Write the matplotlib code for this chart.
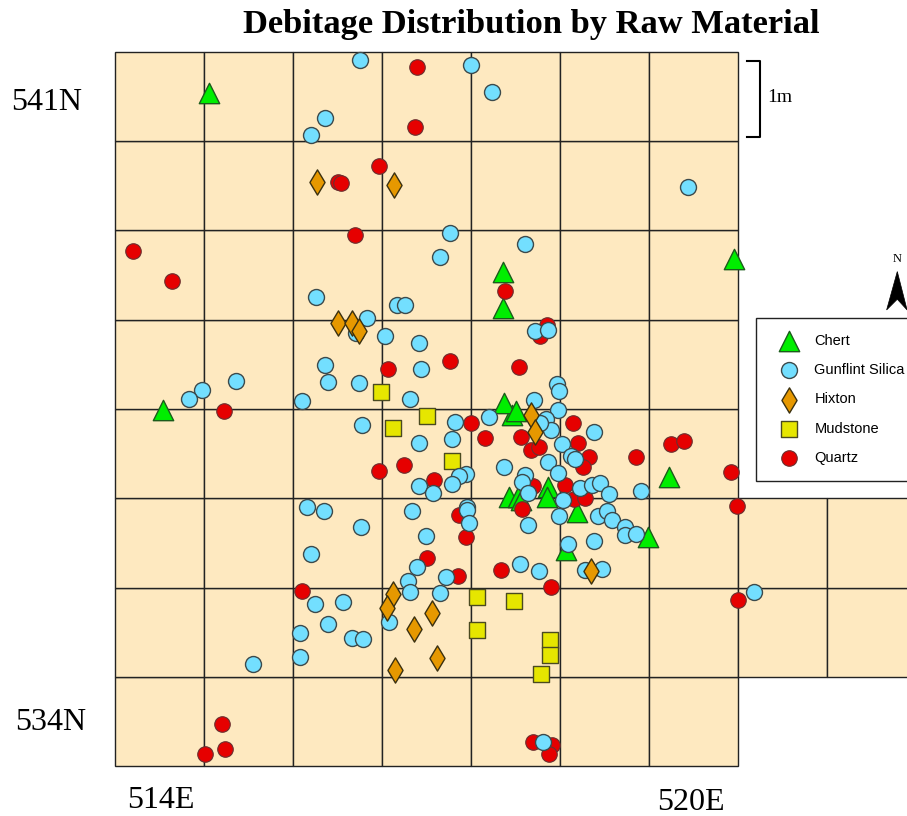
import matplotlib
matplotlib.use('Agg')
import matplotlib.pyplot as plt
from matplotlib.patches import Rectangle, Polygon

# site grid, 1m units
chert_e = [514.06, 517.36, 517.36, 519.96, 513.54, 517.46, 517.37, 517.51, 519.22, 517.43, 517.53, 517.56, 517.87, 517.85, 518.19, 518.99, 518.07]
chert_n = [540.54, 538.54, 538.13, 538.68, 536.99, 536.93, 537.07, 536.98, 536.24, 536.02, 536.02, 535.98, 536.13, 536.02, 535.85, 535.57, 535.42]

gunflint_e = [515.75, 517.00, 517.24, 515.36, 515.20, 519.44, 516.76, 516.65, 517.61, 515.26, 516.17, 516.26, 515.83, 515.71, 516.03, 516.42,
	517.72, 517.87, 515.36, 516.44, 515.39, 515.74, 514.36, 513.98, 513.83, 515.10, 516.31, 515.78, 516.82, 516.42, 516.79,
	517.97, 517.99, 517.71, 517.98, 517.20, 517.84, 517.90, 517.78, 518.38, 518.02, 518.12, 518.17, 517.87, 517.37, 517.98,
	516.94, 516.87, 516.79, 516.42, 516.57, 517.61, 517.57, 517.64, 518.22, 518.36, 518.45, 518.55, 518.91, 518.03, 516.34,
	516.96, 516.96, 516.98, 517.99, 517.64, 518.43, 518.53, 518.58, 518.73, 518.73, 518.85, 516.49, 518.38, 518.09, 516.39,
	516.72, 516.29, 516.31, 516.65, 517.55, 517.76, 518.28, 518.47, 515.16, 515.35, 515.76, 515.20, 515.25, 515.56, 515.39,
	515.08, 515.66, 515.79, 515.08, 516.08, 514.55, 520.18, 517.81]
gunflint_n = [540.91, 540.85, 540.55, 540.26, 540.07, 539.49, 538.97, 538.70, 538.85, 538.26, 538.17, 538.17, 538.02, 537.85, 537.82, 537.74,
	537.87, 537.89, 537.49, 537.45, 537.30, 537.29, 537.31, 537.21, 537.11, 537.09, 537.11, 536.82, 536.86, 536.62, 536.67,
	537.28, 537.20, 537.10, 536.99, 536.91, 536.89, 536.77, 536.84, 536.74, 536.61, 536.47, 536.44, 536.41, 536.35, 536.28,
	536.27, 536.25, 536.16, 536.14, 536.06, 536.26, 536.18, 536.06, 536.12, 536.15, 536.17, 536.05, 536.08, 535.98, 535.86,
	535.90, 535.87, 535.72, 535.80, 535.70, 535.80, 535.86, 535.76, 535.68, 535.59, 535.60, 535.58, 535.52, 535.49, 535.23,
	535.12, 535.08, 534.95, 534.94, 535.27, 535.19, 535.20, 535.21, 535.90, 535.86, 535.68, 535.38, 534.82, 534.84, 534.59,
	534.49, 534.44, 534.43, 534.22, 534.62, 534.15, 534.95, 533.27]

hixton_e = [515.27, 516.13, 515.51, 515.66, 515.74, 517.67, 517.72, 518.35, 516.12, 516.06, 516.56, 516.36, 516.62, 516.15]
hixton_n = [539.54, 539.51, 537.96, 537.96, 537.87, 536.93, 536.74, 535.19, 534.93, 534.77, 534.72, 534.54, 534.21, 534.08]

mudstone_e = [515.99, 516.12, 516.51, 516.79, 517.07, 517.48, 517.07, 517.89, 517.89, 517.79]
mudstone_n = [537.19, 536.79, 536.92, 536.42, 534.90, 534.85, 534.53, 534.41, 534.25, 534.03]

quartz_e = [516.39, 516.37, 515.97, 515.51, 515.54, 515.70, 513.20, 513.64, 517.38, 517.85, 517.78, 516.76, 517.54, 516.07, 514.22,
	517.00, 517.16, 517.56, 517.67, 517.76, 518.15, 518.20, 518.33, 518.26, 518.85, 519.25, 519.39, 515.97, 516.25, 516.58,
	517.70, 518.06, 518.16, 518.28, 517.57, 516.87, 516.94, 516.51, 516.85, 517.34, 517.90, 519.92, 519.99, 520.00, 515.10,
	514.20, 514.24, 514.01, 517.70, 517.91, 517.88]
quartz_n = [540.83, 540.16, 539.72, 539.54, 539.53, 538.95, 538.77, 538.43, 538.32, 537.94, 537.82, 537.54, 537.47, 537.45, 536.98,
	536.84, 536.68, 536.69, 536.54, 536.58, 536.84, 536.62, 536.46, 536.35, 536.46, 536.61, 536.64, 536.31, 536.37, 536.21,
	536.14, 536.15, 535.99, 536.00, 535.88, 535.81, 535.57, 535.33, 535.13, 535.20, 535.01, 536.30, 535.91, 534.86, 534.96,
	533.47, 533.19, 533.14, 533.27, 533.24, 533.14]

grid_e = [513, 514, 515, 516, 517, 518, 519]
grid_n = [533, 534, 535, 536, 537, 538, 539, 540]
extra_e = [520, 521]
extra_n = [534, 535]

serif = 'Liberation Serif'
fill = '#FEE9C0'

fig = plt.figure(figsize=(9.07, 8.16), dpi=100)
ax = fig.add_axes([0, 0, 1, 1])
ax.set_xlim(511.708, 521.899)
ax.set_ylim(532.443, 541.581)
ax.axis('off')

for e in grid_e:
	for n in grid_n:
		ax.add_patch(Rectangle((e, n), 1, 1, fc=fill, ec='#222222', lw=1, zorder=1))
for e in extra_e:
	for n in extra_n:
		ax.add_patch(Rectangle((e, n), 1, 1, fc=fill, ec='#222222', lw=1, zorder=1))

edge = '#3c4a4c'
ax.scatter(mudstone_e, mudstone_n, marker='s', s=125, c='#E6E600', edgecolors='#4a4a20', linewidths=1, zorder=3, label='Mudstone')
ax.scatter(chert_e, chert_n, marker='^', s=215, c='#00EE00', edgecolors='#1c5c1c', linewidths=1, zorder=3, label='Chert')
ax.scatter(quartz_e, quartz_n, marker='o', s=125, c='#E60000', edgecolors='#6a3030', linewidths=0.8, zorder=4, label='Quartz')
ax.scatter(gunflint_e, gunflint_n, marker='o', s=132, c='#73DFFF', edgecolors=edge, linewidths=1, zorder=5, label='Gunflint Silica')
ax.scatter(hixton_e, hixton_n, marker='d', s=165, c='#E69800', edgecolors='#3a3010', linewidths=1, zorder=6, label='Hixton')

# scale bar
ax.plot([520.10, 520.25, 520.25, 520.10], [540.90, 540.90, 540.05, 540.05], color='black', lw=1.5, zorder=2)
fig.text(780 / 907, 1 - 98 / 816, '1m', family=serif, fontsize=14, ha='center', va='center')

# north arrow
ax.add_patch(Polygon([(521.79, 538.54), (521.90, 538.11), (521.79, 538.23), (521.67, 538.11)], fc='black', ec='black', lw=0.5, zorder=2))
fig.text(897 / 907, 1 - 259 / 816, 'N', family=serif, fontsize=9, ha='center', va='center')

fig.text(531 / 907, 1 - 25 / 816, 'Debitage Distribution by Raw Material', family=serif, weight='bold', fontsize=24.8, ha='center', va='center')
fig.text(161 / 907, 1 - 801 / 816, '514E', family=serif, fontsize=23, ha='center', va='center')
fig.text(691 / 907, 1 - 802 / 816, '520E', family=serif, fontsize=23, ha='center', va='center')
fig.text(47 / 907, 1 - 103 / 816, '541N', family=serif, fontsize=23, ha='center', va='center')
fig.text(51 / 907, 1 - 722 / 816, '534N', family=serif, fontsize=23, ha='center', va='center')

handles, labels = ax.get_legend_handles_labels()
order = [labels.index(x) for x in ['Chert', 'Gunflint Silica', 'Hixton', 'Mudstone', 'Quartz']]
leg = ax.legend([handles[i] for i in order], [labels[i] for i in order], loc='upper left',
	bbox_to_anchor=(756 / 907, 1 - 318 / 816), bbox_transform=fig.transFigure, borderaxespad=0,
	prop={'family': 'Liberation Sans', 'size': 10.5}, labelspacing=1.05, borderpad=1.08, handlelength=2.3,
	handletextpad=0.63, scatterpoints=1, fancybox=False, framealpha=1, edgecolor='#222222', facecolor='white')
leg.set_zorder(10)
leg.get_frame().set_linewidth(1)

fig.savefig('out.png', dpi=100)
